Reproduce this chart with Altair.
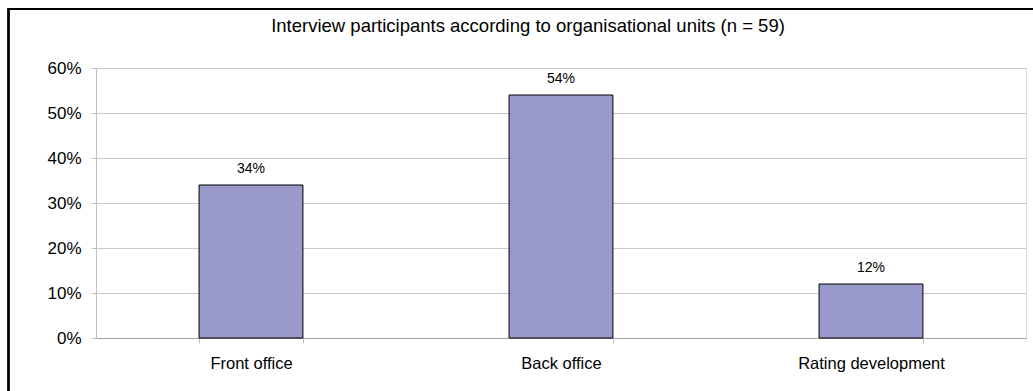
import altair as alt
import pandas as pd

categories = ["Front office", "Back office", "Rating development"]
shares = [0.34, 0.54, 0.12]
title_text = "Interview  participants according to organisational units (n = 59)"

df = pd.DataFrame({"unit": categories, "share": shares})

W, H = 930, 270
FONT = "Liberation Sans"

x_enc = alt.X(
    "unit:N",
    sort=categories,
    scale=alt.Scale(paddingInner=0.665, paddingOuter=0.3325),
    axis=alt.Axis(
        title=None, labelAngle=0, labelFontSize=16.5, labelFont=FONT,
        labelColor="#000000", labelPadding=12, tickBand="extent",
        tickSize=5, tickColor="#C0C0C0", domainColor="#A0A0A0", grid=False,
    ),
)
y_enc = alt.Y(
    "share:Q",
    scale=alt.Scale(domain=[0, 0.6], nice=False),
    axis=alt.Axis(
        title=None, format=".0%", values=[0, 0.1, 0.2, 0.3, 0.4, 0.5, 0.6],
        labelFontSize=17, labelFont=FONT, labelColor="#000000",
        labelPadding=10, tickSize=5, tickColor="#C0C0C0",
        domainColor="#C0C0C0", gridColor="#C8C8C8", grid=True,
    ),
)

bars = alt.Chart(df).mark_bar(
    fill="#9999CC", stroke="#000000", strokeWidth=1
).encode(x=x_enc, y=y_enc)

labels = alt.Chart(df).mark_text(
    dy=-12, baseline="alphabetic", fontSize=14, font=FONT, color="#000000"
).encode(
    x=alt.X("unit:N", sort=categories),
    y="share:Q",
    text=alt.Text("share:Q", format=".0%"),
)

frame = alt.Chart(df).mark_rect(
    filled=False, stroke="#000000", strokeWidth=2
).encode(
    x=alt.value(-87.5), x2=alt.value(W + 20),
    y=alt.value(-59), y2=alt.value(H + 70),
)

chart = alt.layer(frame, bars, labels).properties(
    width=W, height=H,
    title=alt.TitleParams(
        title_text, fontSize=18.5, font=FONT, fontWeight="normal",
        color="#000000", anchor="middle", dx=-33, offset=-27,
    ),
    autosize=alt.AutoSizeParams(type="none"),
    padding={"left": 96, "top": 68, "right": 7, "bottom": 53},
).configure_view(
    stroke="#C0C0C0", strokeWidth=1
).configure(background="#FFFFFF")

chart.save("out.html", embed_options={"renderer": "svg", "actions": False})
